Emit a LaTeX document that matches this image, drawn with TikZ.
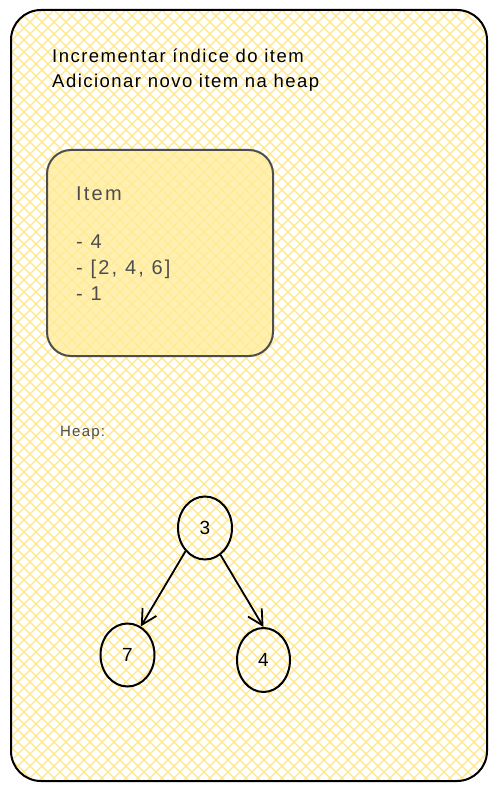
\documentclass[tikz,border=0pt]{standalone}
\usepackage{fontspec}
\setmainfont{Liberation Sans}
\newfontfamily\handfont[LetterSpace=8]{Liberation Sans}
\newfontfamily\grayfont[LetterSpace=11]{Liberation Sans}
\newfontfamily\heapfont[LetterSpace=8]{Liberation Sans}
\usetikzlibrary{shapes.geometric,arrows.meta}
\definecolor{hatch}{HTML}{FFE788}
\definecolor{boxfill}{HTML}{FFEC99}
\definecolor{inkgray}{HTML}{4D4D4D}
\tikzset{
  handtext/.style={anchor=base west, inner sep=0pt, font=\handfont\fontsize{18.5}{18.5}\selectfont, text=black},
  graytext/.style={anchor=base west, inner sep=0pt, font=\grayfont\fontsize{20}{20}\selectfont, text=inkgray},
  heapnode/.style={ellipse, draw=black, line width=2pt, inner sep=0pt,
                   minimum width=54pt, minimum height=63pt, font=\fontsize{19}{19}\selectfont},
  edge/.style={draw=black, line width=1.8pt, -{Straight Barb[length=15pt,width=16pt,line width=1.8pt]}}
}
\begin{document}
\begin{tikzpicture}[x=1pt,y=-1pt]
\useasboundingbox (0,0) rectangle (497,791);
\fill[white] (0,0) rectangle (497,791);
% outer frame with hachure
\begin{scope}
  \clip[rounded corners=30pt] (11,10) rectangle (487,781);
  \foreach \i in {-820,-808,...,520} {
    \draw[hatch, line width=1.3pt] (\i,0) -- ++(800,800);
    \draw[hatch, line width=1.3pt] (\i+800,0) -- ++(-800,800);
  }
\end{scope}
\draw[black, line width=2pt, rounded corners=30pt] (11,10) rectangle (487,781);
% inner box
\draw[inkgray, line width=2pt, fill=boxfill, fill opacity=0.75, rounded corners=24pt] (47,150) rectangle (273,356);
% texts
\node[handtext] (t1) at (52,63) {Incrementar índice do item};
\node[handtext] (t2) at (52,88) {Adicionar novo item na heap};
\node[graytext] (i0) at (76,201) {Item};
\node[graytext] (i1) at (76,249) {- 4};
\node[graytext] (i2) at (76,274) {- [2, 4, 6]};
\node[graytext] (i3) at (76,300) {- 1};
\node[graytext, font=\heapfont\fontsize{15}{15}\selectfont] (hp) at (60,436) {Heap:};
% heap
\node[heapnode] (n3) at (205,528) {3};
\node[heapnode] (n7) at (127.5,655) {7};
\node[heapnode, minimum width=53pt, minimum height=64pt] (n4) at (263.5,660) {4};
\draw[edge] (n3.-130) -- (n7.65);
\draw[edge] (n3.-60) -- (n4.north);
\end{tikzpicture}
\end{document}
